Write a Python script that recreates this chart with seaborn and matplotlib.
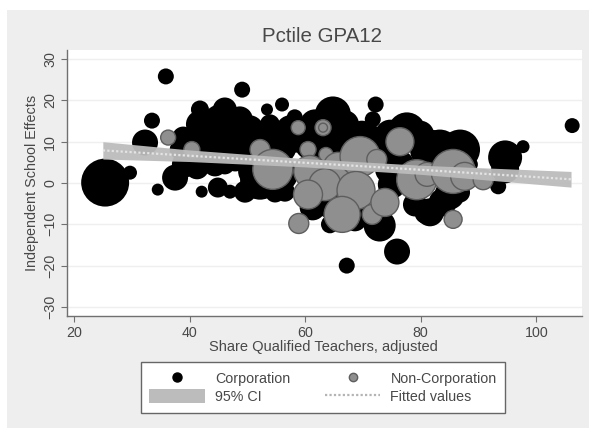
import matplotlib
matplotlib.use("Agg")
import matplotlib.pyplot as plt
from matplotlib.lines import Line2D
from matplotlib.patches import Patch, Rectangle
import pandas as pd
import seaborn as sns

corp_x = [25.4, 29.7, 35.9, 49.1, 33.5, 32.3, 34.5, 37.5, 42.1, 44.9, 47.0, 41.8, 45.3, 40.9, 38.9, 44.4, 48.7, 42.7,
          47.9, 39.2, 44.4, 51.0, 53.4, 56.0, 58.2, 54.8, 58.2, 52.2, 51.3, 54.8, 64.8, 64.3, 72.2, 71.7, 72.0, 77.6,
          67.8, 83.3, 86.8, 81.6, 94.6, 97.7, 93.4, 94.6, 75.9, 67.2, 72.9, 80.7, 81.6, 83.8, 86.8, 106.2, 61.3, 64.3,
          68.6, 74.7, 79.0, 64.3, 50.5, 49.6, 55.6, 41.3, 46.1,
          41.8, 46.1, 50.4, 42.7, 47.0, 52.2, 38.3, 41.8, 47.9, 50.4, 57.4, 53.9, 61.7, 60.8, 66.9, 66.0, 69.8, 71.6,
          74.7, 73.8, 76.4, 79.9, 88.5, 75.0, 56.5, 64.3, 68.6, 78.1, 85.0]
corp_y = [0.1, 2.5, 25.8, 22.6, 15.1, 9.8, -1.6, 1.3, -2.1, -1.1, -2.1, 17.8, 14.9, 10.5, 11.0, 11.7, 15.4, 8.1,
          10.5, 4.5, 4.5, 2.8, 17.8, 19.0, 15.9, 9.3, 11.7, 0.8, -0.4, -2.3, 16.6, 11.7, 19.0, 15.4, 11.7, 12.5,
          9.3, 8.1, 8.1, 8.1, 6.2, 8.8, -0.8, 3.3, -16.6, -20.0, -10.3, -7.4, -7.1, -4.7, -2.3, 13.9, -5.9, -10.0,
          -8.8, 3.3, -5.2, 8.1, 6.9, -2.1, 2.1, 3.8, 4.5,
          14.2, 17.8, 13.0, 11.7, 8.1, 10.5, 8.1, 5.7, 5.7, 8.1, 13.0, 14.2, 14.2, 9.3, 14.2, 8.1, 11.7, 10.5,
          11.7, 8.1, 4.5, 11.7, 4.5, -0.4, -2.1, -5.2, -4.0, 0.8, -2.8]
corp_w = [576, 49, 64, 64, 64, 169, 36, 169, 36, 100, 49, 81, 289, 144, 121, 361, 169, 196,
          225, 169, 144, 225, 36, 49, 64, 484, 324, 400, 144, 100, 324, 324, 64, 64, 64, 361,
          225, 400, 400, 400, 289, 42, 64, 196, 169, 64, 256, 100, 196, 196, 100, 56, 169, 81,
          144, 225, 144, 324, 144, 121, 324, 144, 100,
          196, 144, 196, 256, 256, 225, 100, 196, 144, 225, 196, 100, 225, 225, 196, 196, 196, 196,
          225, 196, 196, 196, 64, 196, 100, 196, 196, 225, 225]

non_x = [36.3, 40.4, 52.2, 54.4, 58.8, 63.1, 63.1, 60.5, 63.6, 60.8, 65.7, 69.5, 63.4, 68.8, 60.5, 66.4, 58.9, 71.6,
         76.4, 72.4, 73.8, 79.3, 81.1, 85.6, 87.6, 90.8, 85.6]
non_y = [11.0, 8.1, 8.1, 3.3, 13.4, 13.4, 13.4, 8.1, 6.9, 2.8, 3.8, 6.4, -0.4, -1.8, -2.8, -7.6, -9.8, -7.6,
         10.0, 5.7, -4.7, 0.8, 2.1, 2.8, 1.6, 0.8, -8.8]
non_w = [56, 64, 100, 400, 49, 64, 20, 64, 49, 256, 225, 400, 256, 361, 210, 324, 100, 100,
         196, 100, 196, 400, 144, 484, 196, 100, 81]

fit_x = [25, 40, 60, 80, 106]
fit_y = [7.9, 6.6, 4.9, 3.2, 0.9]
ci_lo = [5.8, 5.2, 3.9, 2.1, -1.0]
ci_hi = [10.0, 8.0, 5.9, 4.3, 2.8]

x_ticks = [20, 40, 60, 80, 100]
y_ticks = [-30, -20, -10, 0, 10, 20, 30]

sns.set_theme(style="white")
plt.rcParams["font.family"] = ["Liberation Sans", "DejaVu Sans"]
W, H = 589, 428
TXT = "#484848"
AX = "#707070"

fig = plt.figure(figsize=(W / 100, H / 100), dpi=100, facecolor="white")
fig.add_artist(Rectangle((7 / W, 0), (W - 7) / W, (H - 10) / H, transform=fig.transFigure,
                         facecolor="#eeeeee", edgecolor="none", zorder=-10))
ax = fig.add_axes([67 / W, 1 - 316 / H, (582 - 67) / W, (316 - 50) / H], facecolor="white")

corp = pd.DataFrame({"x": corp_x, "y": corp_y, "w": corp_w})
non = pd.DataFrame({"x": non_x, "y": non_y, "w": non_w})
size_kw = dict(size="w", size_norm=(0, 600), sizes=(0, 1242), legend=False)
sns.scatterplot(data=corp, x="x", y="y", color="black", linewidth=0, ax=ax, zorder=3, **size_kw)
sns.scatterplot(data=non, x="x", y="y", color="#8f8f8f", edgecolor="#5e5e5e", linewidth=1, ax=ax, zorder=4, **size_kw)

ax.fill_between(fit_x, ci_lo, ci_hi, color="#bcbcbc", alpha=0.95, linewidth=0, zorder=5)
ax.plot(fit_x, fit_y, color="#e4e4e4", lw=1.6, ls=(0, (1, 1)), zorder=6)

ax.set_xlim(18.8, 107.9)
ax.set_ylim(-32.2, 32.2)
ax.set_xticks(x_ticks)
ax.set_yticks(y_ticks)
ax.grid(axis="y", color="#efefef", lw=1)
ax.grid(axis="x", visible=False)
ax.set_axisbelow(True)
for s in ("top", "right"):
    ax.spines[s].set_visible(False)
for s in ("left", "bottom"):
    ax.spines[s].set_color(AX)
    ax.spines[s].set_linewidth(1)
ax.tick_params(axis="both", length=4, width=0.8, color=AX, labelcolor=TXT, labelsize=10.3, pad=3, bottom=True, left=True)
plt.setp(ax.get_yticklabels(), rotation=90, va="center")

ax.set_xlabel("")
ax.set_ylabel("")
fig.text(323 / W, 1 - 347 / H, "Share Qualified Teachers, adjusted", ha="center", va="center", color=TXT, fontsize=10.5)
fig.text(32 / W, 1 - 183 / H, "Independent School Effects", ha="center", va="center", rotation=90, color=TXT, fontsize=10.4)
fig.text(322 / W, 1 - 36 / H, "Pctile GPA12", ha="center", va="center", color=TXT, fontsize=14.8)

handles = [
    Line2D([], [], ls="none", marker="o", ms=6.5, mfc="black", mec="black"),
    Patch(facecolor="#bcbcbc", edgecolor="none"),
    Line2D([], [], ls="none", marker="o", ms=6, mfc="#8f8f8f", mec="#5e5e5e", mew=1),
    Line2D([], [], color="#b4b4b4", lw=1.6, ls=(0, (1, 1))),
]
labels = ["Corporation", "95% CI", "Non-Corporation", "Fitted values"]
leg = fig.legend(handles, labels, ncol=2, loc="center", bbox_to_anchor=(323 / W, 1 - 387.5 / H),
                 bbox_transform=fig.transFigure, frameon=True, fancybox=False, framealpha=1,
                 facecolor="white", edgecolor="#666666", fontsize=10.3, handlelength=3.9, handleheight=1.1,
                 handletextpad=0.7, columnspacing=2.4, labelspacing=0.25, borderpad=0.6, labelcolor=TXT)
leg.get_frame().set_linewidth(1)

fig.savefig("out.png", dpi=100, facecolor=fig.get_facecolor())
